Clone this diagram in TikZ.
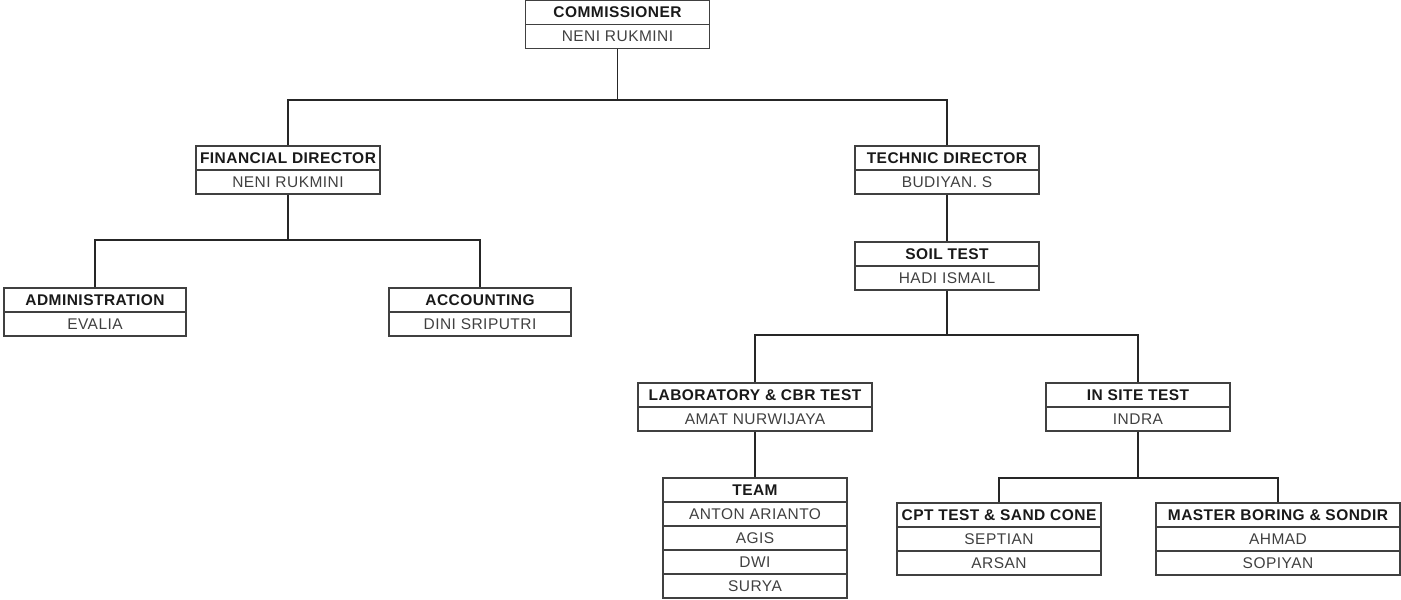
\documentclass[tikz,border=0pt]{standalone}
\usepackage{fontspec}
\setmainfont{Liberation Sans}[LetterSpace=3]
\usepackage{tikz}
\usetikzlibrary{calc}
\tikzset{head row/.style={draw=black!75, line width=1.1pt, rectangle, inner sep=0, minimum height=24pt, text=black!90, font=\fontsize{15.5}{17}\selectfont\bfseries},
         name row/.style={draw=black!75, line width=1.1pt, rectangle, inner sep=0, minimum height=24pt, text=black!75, font=\fontsize{15.5}{17}\selectfont},
         row width/.style={minimum width=#1pt},
         link/.style={draw=black!85, line width=1.2pt}}

\begin{document}
\begin{tikzpicture}[x=1pt, y=-1pt]
          \useasboundingbox (0,0) rectangle (1401,600);

          %commissioner
          \node[head row, row width=184] (comm) at (617.5, 12.5) {COMMISSIONER};
          \node[name row, row width=184] (comm-n) at (617.5, 36.5) {NENI RUKMINI};

          %directors
          \node[head row, row width=184] (fin) at (288, 158) {FINANCIAL DIRECTOR};
          \node[name row, row width=184] (fin-n) at (288, 182) {NENI RUKMINI};
          \node[head row, row width=184] (tech) at (947, 158) {TECHNIC DIRECTOR};
          \node[name row, row width=184] (tech-n) at (947, 182) {BUDIYAN. S};

          %finance side
          \node[head row, row width=182] (adm) at (95, 300) {ADMINISTRATION};
          \node[name row, row width=182] (adm-n) at (95, 324) {EVALIA};
          \node[head row, row width=182] (acc) at (480, 300) {ACCOUNTING};
          \node[name row, row width=182] (acc-n) at (480, 324) {DINI SRIPUTRI};

          %soil test
          \node[head row, row width=184] (soil) at (947, 254) {SOIL TEST};
          \node[name row, row width=184] (soil-n) at (947, 278) {HADI ISMAIL};

          %lab & in site
          \node[head row, row width=234] (lab) at (755, 395) {LABORATORY \& CBR TEST};
          \node[name row, row width=234] (lab-n) at (755, 419) {AMAT NURWIJAYA};
          \node[head row, row width=184] (site) at (1138, 395) {IN SITE TEST};
          \node[name row, row width=184] (site-n) at (1138, 419) {INDRA};

          %team
          \node[head row, row width=184] (team) at (755, 490) {TEAM};
          \node[name row, row width=184] (team-1) at (755, 514) {ANTON ARIANTO};
          \node[name row, row width=184] (team-2) at (755, 538) {AGIS};
          \node[name row, row width=184] (team-3) at (755, 562) {DWI};
          \node[name row, row width=184] (team-4) at (755, 586) {SURYA};

          %cpt / master boring
          \node[head row, row width=204] (cpt) at (999, 515) {CPT TEST \& SAND CONE};
          \node[name row, row width=204] (cpt-1) at (999, 539) {SEPTIAN};
          \node[name row, row width=204] (cpt-2) at (999, 563) {ARSAN};
          \node[head row, row width=244] (mb) at (1278, 515) {MASTER BORING \& SONDIR};
          \node[name row, row width=244] (mb-1) at (1278, 539) {AHMAD};
          \node[name row, row width=244] (mb-2) at (1278, 563) {SOPIYAN};

          %lines
          \coordinate (bus0) at (617.5, 100);
          \coordinate (bus1) at (288, 240);
          \coordinate (bus2) at (947, 335);
          \coordinate (bus3) at (1138, 478);
          \draw[link] (comm-n.south) -- (bus0);
          \draw[link] (fin.north) |- (bus0) -| (tech.north);
          \draw[link] (fin-n.south) -- (bus1);
          \draw[link] (adm.north) |- (bus1) -| (acc.north);
          \draw[link] (tech-n.south) -- (soil.north);
          \draw[link] (soil-n.south) -- (bus2);
          \draw[link] (lab.north) |- (bus2) -| (site.north);
          \draw[link] (lab-n.south) -- (team.north);
          \draw[link] (site-n.south) -- (bus3);
          \draw[link] (cpt.north) |- (bus3) -| (mb.north);

        \end{tikzpicture}
\end{document}
